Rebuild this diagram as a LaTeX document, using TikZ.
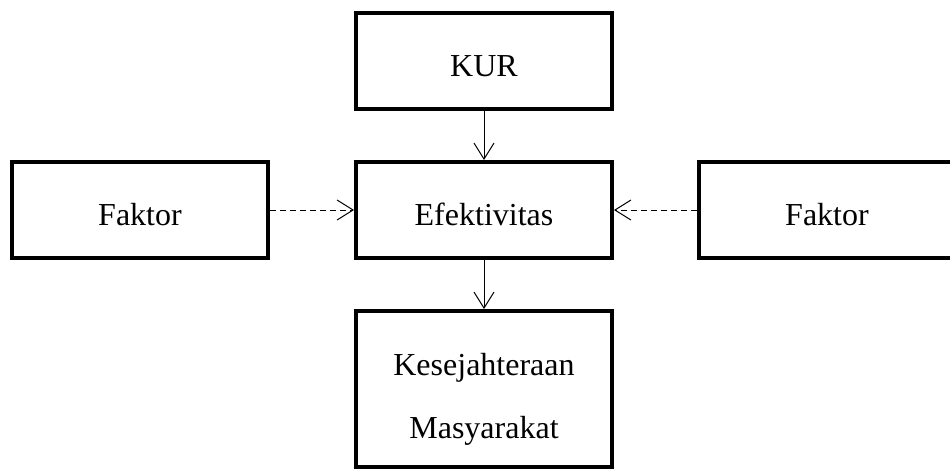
\documentclass[tikz,border=0pt]{standalone}
\usepackage{fontspec}
\setmainfont{Liberation Serif}
\usetikzlibrary{positioning,arrows.meta}

\begin{document}
\begin{tikzpicture}[x=0.75pt, y=-0.75pt, node distance={36.75pt},
  box/.style = {draw, rectangle, line width=3pt, minimum width=192pt, minimum height=72pt, font=\fontsize{24}{47}\selectfont, text height=22.5pt, text depth=0pt},
  link/.style = {line width=0.75pt, -{Straight Barb[length=12pt,width=15pt]}},
  hint/.style = {link, dash pattern=on 4.5pt off 3pt}]
\useasboundingbox (0,0) rectangle (950,469);
\node[box] (efek) at (484,210) {Efektivitas};
\node[box] (kur) [above=of efek] {KUR};
\node[box, minimum height=117pt, align=center, text height=73.5pt] (sejahtera) [below=of efek] {Kesejahteraan\\Masyarakat};
\node[box] (faktor1) [left=63pt of efek] {Faktor};
\node[box] (faktor2) [right=62.25pt of efek] {Faktor};
\draw[link] (kur) -- (efek);
\draw[link] (efek) -- (sejahtera);
\draw[hint] (faktor1) -- (efek);
\draw[hint] (faktor2) -- (efek);
\end{tikzpicture}
\end{document}
